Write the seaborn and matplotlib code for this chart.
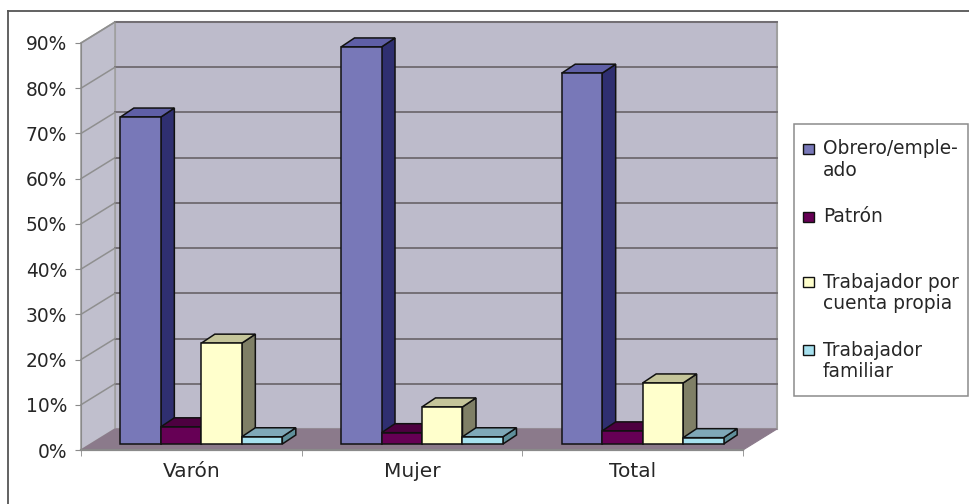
import matplotlib
matplotlib.use('Agg')
import matplotlib.pyplot as plt
from matplotlib.patches import Polygon, Rectangle
import pandas as pd
import seaborn as sns

grupos = ['Varón', 'Mujer', 'Total']
series = ['Obrero/empleado', 'Patrón', 'Trabajador por cuenta propia', 'Trabajador familiar']
obrero = [72.3, 87.8, 82.0]
patron = [3.8, 2.5, 2.9]
cuenta_propia = [22.3, 8.2, 13.5]
familiar = [1.6, 1.6, 1.4]
yticks = list(range(0, 100, 10))

frente = ['#7878b8', '#660055', '#ffffcc', '#a6e0ee']
lado = ['#2f2f70', '#33002b', '#7f7f66', '#5f8f9a']
tapa = ['#5f5fa6', '#4d0040', '#c5c59a', '#7fa8b8']
legend_lines = [['Obrero/emple-', 'ado'], ['Patrón'], ['Trabajador por', 'cuenta propia'], ['Trabajador', 'familiar']]

W, H = 970, 504
FONT = 13.4
plt.rcParams['font.family'] = ['DejaVu Sans']
TXT = '#262626'

df = pd.DataFrame({'grupo': grupos * 4,
                   'serie': [s for s in series for _ in grupos],
                   'valor': obrero + patron + cuenta_propia + familiar})

fig = plt.figure(figsize=(W / 100, H / 100), dpi=100)
ax = fig.add_axes([81 / W, (H - 450) / H, 662 / W, 407 / H])
sns.barplot(data=df, x='grupo', y='valor', hue='serie', hue_order=series, palette=frente,
            saturation=1, width=0.734, gap=0, legend=False, ax=ax, zorder=5)
ax.set_xlim(-0.5, 2.5)
ax.set_ylim(0, 90)
bars = sorted(ax.patches, key=lambda p: p.get_x())

# pixels -> data units for the fake 3d depth
px_x = 3 / 662
px_y = 90 / 407
DX, DY = 34 * px_x, 21 * px_y
BX, BY = 10 * px_x, 6 * px_y
bx, by = 13.5 * px_x, 9 * px_y

# walls and floor
x0, x1 = -0.5, 2.5
ax.add_patch(Polygon([(x0 + DX, DY), (x1 + DX, DY), (x1 + DX, 90 + DY), (x0 + DX, 90 + DY)],
                     fc='#bdbbcb', ec='#a0a0a0', lw=1.5, clip_on=False, zorder=1))
ax.add_patch(Polygon([(x0, 0), (x0 + DX, DY), (x0 + DX, 90 + DY), (x0, 90)],
                     fc='#c0bfcd', ec='#a0a0a0', lw=1.2, clip_on=False, zorder=1))
ax.add_patch(Polygon([(x0, 0), (x1, 0), (x1 + DX, DY), (x0 + DX, DY)],
                     fc='#8b7a8b', ec='#8b7a8b', lw=0.8, clip_on=False, zorder=2))
for v in yticks[1:]:
    ax.plot([x0 + DX, x1 + DX], [v + DY, v + DY], color='#6f6a70', lw=1.3, clip_on=False, zorder=2)
    ax.plot([x0, x0 + DX], [v, v + DY], color='#8f8f8f', lw=1.1, clip_on=False, zorder=2)

# bars: shift into the floor, then add side and top faces
z = 5
for p in bars:
    color = matplotlib.colors.to_hex(p.get_facecolor())
    i = frente.index(color)
    p.set_x(p.get_x() + BX)
    p.set_y(BY)
    p.set_edgecolor('#111111')
    p.set_linewidth(1.1)
    p.set_clip_on(False)
    l, r = p.get_x(), p.get_x() + p.get_width()
    b, t = p.get_y(), p.get_y() + p.get_height()
    ax.add_patch(Polygon([(r, b), (r + bx, b + by), (r + bx, t + by), (r, t)], fc=lado[i],
                         ec='#111111', lw=1.1, clip_on=False, zorder=z))
    ax.add_patch(Polygon([(l, t), (r, t), (r + bx, t + by), (l + bx, t + by)], fc=tapa[i],
                         ec='#111111', lw=1.1, clip_on=False, zorder=z))
    p.set_zorder(z + 0.5)
    z += 1

# axes
sns.despine(ax=ax, top=True, right=True)
ax.spines['left'].set_color('#8a8a8a')
ax.spines['bottom'].set_color('#8a8a8a')
ax.spines['bottom'].set_linewidth(1.6)
ax.spines['left'].set_zorder(3)
ax.set_xlabel('')
ax.set_ylabel('')
ax.set_yticks(yticks)
ax.set_yticklabels(['{}%'.format(v) for v in yticks], fontsize=FONT, color=TXT)
ax.tick_params(axis='y', length=4.5, color='#8a8a8a', pad=5.5)
ax.set_xticks([x0, x0 + 1, x0 + 2, x1], minor=True)
ax.set_xticks([0, 1, 2])
ax.set_xticklabels(grupos, fontsize=14.5, color=TXT)
ax.tick_params(axis='x', which='major', length=0, pad=8.5)
ax.tick_params(axis='x', which='minor', length=4.5, color='#8a8a8a')

# outer frame and legend, figure pixels
def fx(v):
    return v / W
def fy(v):
    return (H - v) / H

fig.add_artist(plt.Line2D([fx(8), 1], [fy(11), fy(11)], color='#555555', lw=1.3))
fig.add_artist(plt.Line2D([fx(8), fx(8)], [fy(11), 0], color='#555555', lw=1.3))
fig.add_artist(Rectangle((fx(794), fy(396)), 174 / W, 272 / H, fc='white', ec='#8c8c8c', lw=1.1,
                         transform=fig.transFigure))
ys = [149, 217, 282, 350]
for y, lines, c in zip(ys, legend_lines, frente):
    fig.add_artist(Rectangle((fx(803), fy(y + 5)), 11 / W, 10 / H, fc=c, ec='#111111', lw=1,
                             transform=fig.transFigure))
    for j, line in enumerate(lines):
        fig.text(fx(823), fy(y + j * 21.5), line, fontsize=FONT, color=TXT, va='center', ha='left')

fig.savefig('out.png', dpi=100)
plt.close(fig)
